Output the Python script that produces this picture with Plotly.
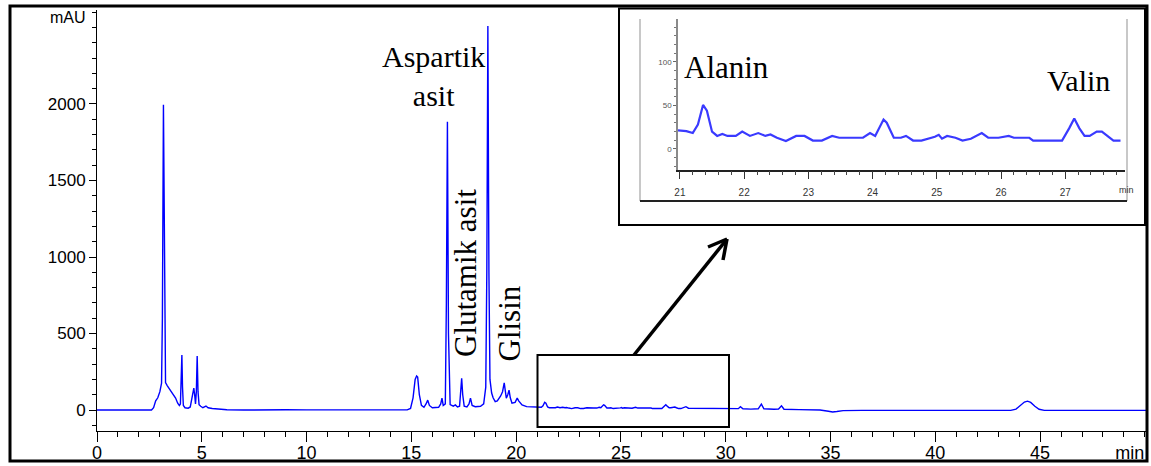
import plotly.graph_objects as go

W, H = 1151, 466
ML, MR, MT, MB = 97, 4, 10, 35

# ---------------- data ----------------
# main chromatogram, segment before the zoomed window (min, mAU)
time_early = [0, 2.6, 2.7, 2.8, 2.9, 3.0, 3.08, 3.12, 3.17, 3.22, 3.27, 3.35, 3.45, 3.55, 3.65, 3.75,
              3.85, 3.93, 3.98, 4.02, 4.05, 4.08, 4.12, 4.2, 4.35, 4.45, 4.55, 4.62, 4.66, 4.7, 4.74,
              4.78, 4.82, 4.87, 4.95, 5.05, 5.2, 5.3, 5.5, 5.8, 6.2, 7.0, 8.0, 9.0, 10.0, 12.0, 14.0,
              14.8, 14.96, 15.08, 15.18, 15.25, 15.3, 15.38, 15.48, 15.6, 15.7, 15.78, 15.86, 16.0,
              16.3, 16.4, 16.46, 16.52, 16.62, 16.67, 16.72, 16.77, 16.85, 17.0, 17.1, 17.2, 17.3,
              17.36, 17.4, 17.45, 17.52, 17.65, 17.75, 17.82, 17.9, 18.05, 18.3, 18.45, 18.55, 18.6,
              18.65, 18.7, 18.75, 18.83, 18.9, 19.0, 19.1, 19.26, 19.35, 19.43, 19.48, 19.53, 19.6,
              19.66, 19.72, 19.8, 19.95, 20.05, 20.12, 20.28, 20.5, 20.8]
signal_early = [0, 0, 15, 60, 80, 120, 176, 600, 1995, 600, 180, 160, 140, 120, 100, 78,
                45, 30, 40, 200, 360, 150, 30, 15, 12, 20, 110, 143, 100, 40, 120,
                353, 120, 35, 25, 15, 26, 15, 10, 5, 2, 0, 2, 2, 1, 0, 0,
                1, 10, 80, 200, 222, 215, 100, 30, 18, 40, 65, 30, 15,
                18, 40, 78, 30, 40, 700, 1884, 500, 35, 25, 33, 20, 25,
                120, 208, 100, 25, 20, 40, 78, 30, 22, 25, 40, 150, 900,
                2510, 900, 200, 111, 80, 55, 60, 92, 120, 178, 120, 78, 100,
                130, 80, 45, 50, 78, 60, 33, 22, 20]

# zoomed window 21-28 min (shown in the inset and in the main trace)
inset_time = [20.97, 21.1, 21.2, 21.28, 21.36, 21.42, 21.5, 21.58, 21.66, 21.74, 21.87, 21.97, 22.09,
              22.22, 22.33, 22.41, 22.51, 22.65, 22.81, 22.94, 23.07, 23.21, 23.37, 23.48, 23.69,
              23.85, 23.96, 24.04, 24.17, 24.22, 24.33, 24.44, 24.52, 24.63, 24.76, 24.97, 25.03,
              25.08, 25.16, 25.29, 25.4, 25.53, 25.7, 25.8, 25.96, 26.12, 26.2, 26.44, 26.5, 26.95,
              27.06, 27.14, 27.22, 27.3, 27.38, 27.49, 27.57, 27.65, 27.75, 27.86]
inset_signal = [21.5, 20.5, 18.3, 28, 50.6, 44, 19.9, 15, 17.2, 15, 15, 19.9, 15,
                18.3, 15, 16.7, 12.9, 9.2, 15, 15, 9.7, 9.7, 15, 12.9, 12.9,
                12.9, 18.3, 15, 33.9, 30.2, 12.9, 12.9, 15, 9.7, 9.7, 14, 16.2,
                11.8, 15, 12.9, 9.7, 11.8, 18.3, 12.9, 12.9, 15, 12.9, 12.9, 9.7, 9.7,
                23.7, 35, 23.7, 15, 15, 19.9, 19.9, 15, 9.7, 9.7]

# main chromatogram, segment after the zoomed window
time_late = [28.0, 28.1, 28.22, 28.6, 29.2, 29.8, 30.4, 30.6, 30.7, 30.82, 31.2, 31.55, 31.7, 31.82,
             32.3, 32.52, 32.66, 32.78, 33.5, 34.5, 34.9, 35.1, 35.3, 35.6, 36.5, 40.0, 43.6, 43.85,
             44.05, 44.25, 44.4, 44.55, 44.75, 44.95, 45.2, 50.1]
signal_late = [14, 22, 12, 11, 10, 9, 7, 9, 22, 8, 6, 8, 39, 8,
               5, 7, 28, 5, 3, 0, -8, -13, -10, -4, -2, -2, -2, 6,
               28, 52, 58, 50, 25, 5, -2, -2]

x_ticks = [0, 5, 10, 15, 20, 25, 30, 35, 40, 45]
y_ticks = [0, 500, 1000, 1500, 2000]
inset_x_ticks = [21, 22, 23, 24, 25, 26, 27]
inset_y_ticks = [0, 50, 100]

peak_labels = ["Aspartik<br>asit", "Glutamik asit", "Glisin"]
inset_labels = ["Alanin", "Valin"]

# ---------------- helpers (pixel -> paper) ----------------
PW = W - ML - MR
PH = H - MT - MB


def px(x):
    return (x - ML) / PW


def py(y):
    return (H - MB - y) / PH


time_main = time_early + inset_time + time_late
signal_main = signal_early + inset_signal + signal_late

SANS = "Liberation Sans, Arial, sans-serif"
SERIF = "Liberation Serif, Times New Roman, serif"

fig = go.Figure()
fig.add_trace(go.Scatter(x=time_main, y=signal_main, mode="lines",
                         line=dict(color="#0000ff", width=1.4), showlegend=False,
                         hoverinfo="skip"))
fig.add_trace(go.Scatter(x=inset_time, y=inset_signal, mode="lines", xaxis="x2", yaxis="y2",
                         line=dict(color="#3a3aff", width=2.2), showlegend=False,
                         hoverinfo="skip"))
# invisible carrier so the overlaying axis (holding only the "min" unit label) is drawn
fig.add_trace(go.Scatter(x=[time_main[-1]], y=[signal_main[-1]], xaxis="x3", yaxis="y",
                         mode="markers", marker=dict(opacity=0), showlegend=False,
                         hoverinfo="skip"))

fig.update_layout(
    width=W, height=H,
    margin=dict(l=ML, r=MR, t=MT, b=MB, pad=0, autoexpand=False),
    showlegend=False,
    paper_bgcolor="white", plot_bgcolor="white",
    xaxis=dict(range=[0, 50.1], tickmode="array", tickvals=x_ticks,
               ticktext=[str(v) for v in x_ticks], automargin=False, ticklabelstandoff=-5,
               showline=True, linecolor="black", linewidth=1, ticks="outside",
               ticklen=10, tickwidth=1, tickcolor="black", showgrid=False, zeroline=False,
               tickfont=dict(family=SANS, size=18, color="black"),
               minor=dict(tickmode="linear", tick0=0, dtick=1, ticks="outside", ticklen=5,
                          tickcolor="black", tickwidth=1, showgrid=False)),
    xaxis3=dict(range=[0, 50.1], overlaying="x", anchor="y", side="bottom", automargin=False,
                tickmode="array", tickvals=[49.28], ticktext=["min"], ticks="outside",
                ticklabelstandoff=-5, ticklabeloverflow="allow",
                ticklen=10, tickcolor="rgba(0,0,0,0)", showline=False, showgrid=False,
                zeroline=False, tickfont=dict(family=SANS, size=18, color="black")),
    yaxis=dict(range=[-137, 2614], tickmode="array", tickvals=y_ticks,
               ticktext=[str(v) for v in y_ticks], automargin=False,
               showline=True, linecolor="black", linewidth=1, ticks="outside",
               ticklen=7, tickwidth=1, tickcolor="black", showgrid=False, zeroline=False,
               tickfont=dict(family=SANS, size=17, color="black"),
               minor=dict(tickmode="linear", tick0=0, dtick=100, ticks="outside", ticklen=4,
                          tickcolor="black", tickwidth=1, showgrid=False)),
    xaxis2=dict(domain=[px(678), px(1125)], anchor="y2", range=[20.97, 27.93],
                tickmode="array", tickvals=inset_x_ticks, automargin=False,
                ticktext=[str(v) for v in inset_x_ticks], ticklabelstandoff=5,
                showline=True, linecolor="#222222", linewidth=1.5, ticks="outside",
                ticklen=8, tickwidth=1, tickcolor="#333333", showgrid=False, zeroline=False,
                tickfont=dict(family=SANS, size=10, color="#333333"),
                minor=dict(tickmode="linear", tick0=21, dtick=0.2, ticks="outside", ticklen=4,
                           tickcolor="#444444", tickwidth=1, showgrid=False)),
    yaxis2=dict(domain=[py(169.5), py(19)], anchor="x2", range=[-23.6, 149.4],
                tickmode="array", tickvals=inset_y_ticks, automargin=False,
                ticktext=[str(v) for v in inset_y_ticks],
                showline=True, linecolor="#8a8a8a", linewidth=1.5, ticks="outside",
                ticklen=3, tickwidth=1, tickcolor="#666666", showgrid=False, zeroline=False,
                tickfont=dict(family=SANS, size=8, color="#555555"),
                minor=dict(tickmode="linear", tick0=0, dtick=10, ticks="outside", ticklen=2,
                           tickcolor="#777777", tickwidth=1, showgrid=False)),
)

ann = []
ann.append(dict(text=peak_labels[0], x=px(433), y=py(76), xref="paper", yref="paper",
                xanchor="center", yanchor="middle", showarrow=False,
                font=dict(family=SERIF, size=30, color="black")))
ann.append(dict(text=peak_labels[1], x=px(465), y=py(273), xref="paper", yref="paper",
                xanchor="center", yanchor="middle", showarrow=False, textangle=-90,
                font=dict(family=SERIF, size=31, color="black")))
ann.append(dict(text=peak_labels[2], x=px(509), y=py(323.5), xref="paper", yref="paper",
                xanchor="center", yanchor="middle", showarrow=False, textangle=-90,
                font=dict(family=SERIF, size=31, color="black")))
ann.append(dict(text=inset_labels[0], x=px(682), y=py(67.5), xref="paper", yref="paper",
                xanchor="left", yanchor="middle", showarrow=False,
                font=dict(family=SERIF, size=31, color="black")))
ann.append(dict(text=inset_labels[1], x=px(1045), y=py(80), xref="paper", yref="paper",
                xanchor="left", yanchor="middle", showarrow=False,
                font=dict(family=SERIF, size=30, color="black")))
ann.append(dict(text="mAU", x=px(88), y=py(18), xref="paper", yref="paper",
                xanchor="right", yanchor="middle", showarrow=False,
                font=dict(family=SANS, size=16, color="black")))
ann.append(dict(text="min", x=px(1117), y=py(190), xref="paper", yref="paper",
                xanchor="left", yanchor="middle", showarrow=False,
                font=dict(family=SANS, size=9, color="#333333")))
fig.update_layout(annotations=ann)

shapes = []


def line(x0, y0, x1, y1, color="black", width=2):
    shapes.append(dict(type="line", xref="paper", yref="paper", x0=px(x0), y0=py(y0),
                       x1=px(x1), y1=py(y1), line=dict(color=color, width=width),
                       layer="above"))


def rect(x0, y0, x1, y1, color="black", width=2):
    shapes.append(dict(type="rect", xref="paper", yref="paper", x0=px(x0), y0=py(y0),
                       x1=px(x1), y1=py(y1), line=dict(color=color, width=width),
                       fillcolor="rgba(0,0,0,0)", layer="above"))


# outer frame
rect(10, 6, 1147, 461, width=3)
# inset frame
rect(619, 8.5, 1145, 225, width=2)
# inset screenshot borders
line(640, 19, 640, 201, color="#c8c8c8", width=2)
line(1127, 19, 1127, 201, color="#c8c8c8", width=2)
line(640, 201, 1127, 201, color="#222222", width=2)
# highlighted window in the main chromatogram
rect(537.5, 355, 729, 427, width=2)
# arrow
line(634, 355, 727, 239, width=3.5)
line(727, 239, 708, 247, width=3.5)
line(727, 239, 723, 260, width=3.5)
fig.update_layout(shapes=shapes)

fig.write_html("out.html")
